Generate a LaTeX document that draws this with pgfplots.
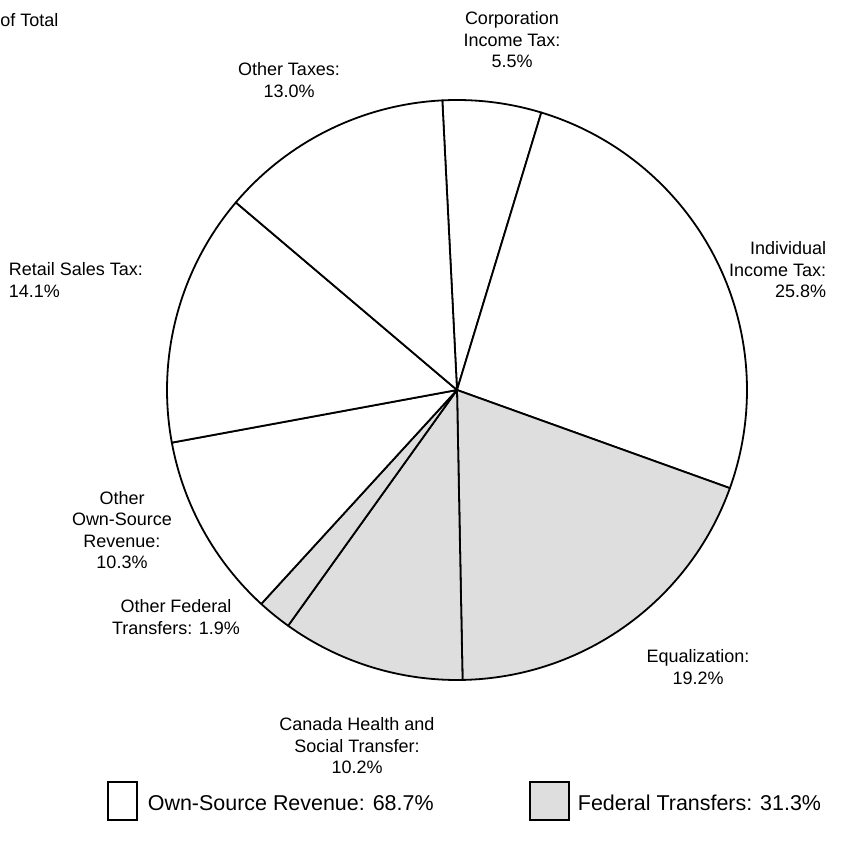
\documentclass[border=0pt]{standalone}
\usepackage{pgfplots}
\pgfplotsset{compat=1.18}
\usepackage{fontspec}
\setmainfont{Liberation Sans}
\definecolor{fed}{HTML}{DEDEDE}
\begin{document}
\begin{tikzpicture}
\begin{axis}[scale only axis, width=8.67in, height=8.48in, xmin=0, xmax=867, ymin=0, ymax=848, y dir=reverse, axis lines=none, clip=false]
\newcommand{\slice}[3]{\filldraw[fill=#3, draw=black, line width=1.3pt, line join=round] (axis cs:457,390) -- ++({92.9-3.6*#1}:2.9in) arc[start angle={92.9-3.6*#1}, end angle={92.9-3.6*#2}, radius=2.9in] -- cycle;}
\slice{0}{5.5}{white}
\slice{5.5}{31.3}{white}
\slice{31.3}{50.5}{fed}
\slice{50.5}{60.7}{fed}
\slice{60.7}{62.6}{fed}
\slice{62.6}{72.9}{white}
\slice{72.9}{87.0}{white}
\slice{87.0}{100}{white}
\tikzset{lab/.style={font=\fontsize{13}{15.5}\selectfont, align=center}}
\node[lab, anchor=west, inner xsep=0pt] at (axis cs:0,20) {of Total};
\node[lab] at (axis cs:512,40) {Corporation\\Income Tax:\\5.5\%};
\node[lab] at (axis cs:289,80) {Other Taxes:\\13.0\%};
\node[lab, align=right, anchor=east] at (axis cs:831,270) {Individual\\Income Tax:\\25.8\%};
\node[lab, align=left, anchor=west] at (axis cs:4,280) {Retail Sales Tax:\\14.1\%};
\node[lab] at (axis cs:122,530) {Other\\Own-Source\\Revenue:\\10.3\%};
\node[lab] at (axis cs:176,617) {Other Federal\\Transfers: 1.9\%};
\node[lab] at (axis cs:698,667) {Equalization:\\19.2\%};
\node[lab] at (axis cs:357,746) {Canada Health and\\Social Transfer:\\10.2\%};
\draw[line width=1.3pt, fill=white] (axis cs:108,782) rectangle (axis cs:137,820);
\draw[line width=1.3pt, fill=fed] (axis cs:530,782) rectangle (axis cs:569,820);
\node[anchor=west, font=\fontsize{15.5}{18}\selectfont] at (axis cs:143,803) {Own-Source Revenue: 68.7\%};
\node[anchor=west, font=\fontsize{15.5}{18}\selectfont] at (axis cs:573,803) {Federal Transfers: 31.3\%};
\end{axis}
\pgfresetboundingbox
\path (current axis.south west) rectangle (current axis.north east);
\end{tikzpicture}
\end{document}
